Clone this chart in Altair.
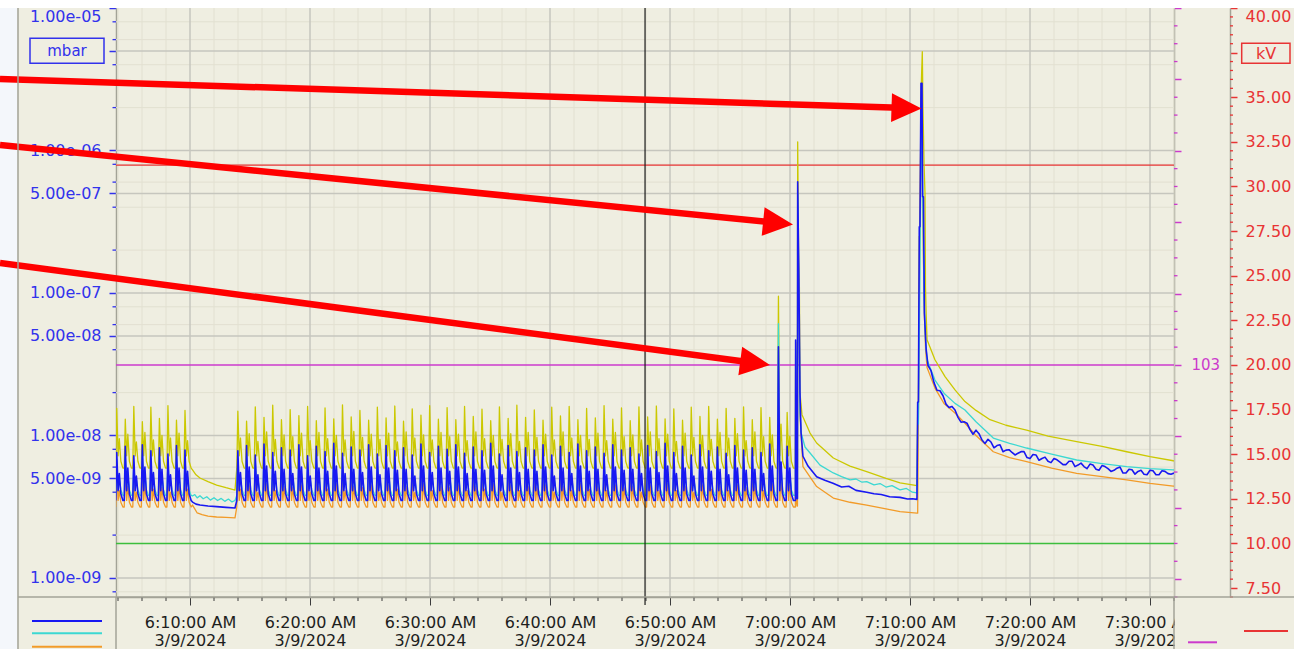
import altair as alt
import pandas as pd
import math

# ---------------------------------------------------------------- layout / style
W, H = 1058, 589
X_DOMAIN = [3.8333, 92.0]          # minutes after 6:00:00 AM, 3/9/2024
P_DOMAIN = [7.356e-10, 1.0e-5]     # mbar, log scale
KV_DOMAIN = [7.0, 40.0]            # kV
MAG_DOMAIN = [90.0, 123.0]         # magenta channel

BG = "#EFEEE1"
GRID_MAJOR = "#C6C6BE"
GRID_MINOR = "#E2E0D1"
FRAME = "#A3A397"
C_YELLOW = "#CBC800"
C_BLUE = "#1818F2"
C_CYAN = "#3CD8D2"
C_ORANGE = "#F29B28"
C_GREEN = "#3DBE3D"
C_RED = "#E83434"
C_MAG = "#CC3ACC"
C_AXBLUE = "#3232EC"
C_ARROW = "#FF0000"
FONT = "DejaVu Sans"

# ---------------------------------------------------------------- tick data
x_tick_minutes = [10, 20, 30, 40, 50, 60, 70, 80, 90]
x_tick_times = ["6:10:00 AM", "6:20:00 AM", "6:30:00 AM", "6:40:00 AM", "6:50:00 AM",
                "7:00:00 AM", "7:10:00 AM", "7:20:00 AM", "7:30:00 AM"]
x_tick_date = "3/9/2024"
left_tick_values = [1e-9, 5e-9, 1e-8, 5e-8, 1e-7, 5e-7, 1e-6, 5e-6, 1e-5]
left_tick_labels = ["1.00e-09", "5.00e-09", "1.00e-08", "5.00e-08", "1.00e-07",
                    "5.00e-07", "1.00e-06", "", "1.00e-05"]
kv_tick_values = [7.5, 10.0, 12.5, 15.0, 17.5, 20.0, 22.5, 25.0, 27.5, 30.0, 32.5, 35.0, 37.5, 40.0]
kv_hidden_label = 37.5
mag_tick_values = [91, 95, 99, 103, 107, 111, 115, 119, 123]
mag_label_value = 103

# reference lines / cursor
red_line_kv = 31.2
green_line_kv = 10.0
magenta_line = 103
cursor_minute = 47.92

# ---------------------------------------------------------------- series data (units of 1e-9 mbar)
# one pump cycle: trough, main peak, dip, second peak, late fall, trough
cycle_phase = [0.0, 0.12, 0.28, 0.42, 0.60, 0.84]
seg1_start, seg1_period = 3.81, 0.711
seg2_start, seg2_period = 13.9, 0.7266

trough = {"yellow": 5.9, "blue": 3.5, "cyan": 3.8, "orange": 3.15}
dip = {"yellow": 7.2, "blue": 4.1, "cyan": 4.3, "orange": 3.5}
late = {"yellow": 6.6, "blue": 3.9, "cyan": 4.15, "orange": 3.4}

yellow_peak_1 = [15.5, 13.0, 16.0, 12.5, 15.8, 13.2, 16.2, 12.8, 15.0]
yellow_second_1 = [9.5, 10.2, 9.0, 10.5, 9.3, 10.0, 9.6, 10.4, 9.2]
blue_peak_1 = [7.6, 8.4, 7.2, 8.6, 7.8, 8.2, 7.4, 8.5, 7.9]
blue_second_1 = [5.4, 5.9, 5.2, 6.0, 5.5, 5.8, 5.3, 5.9, 5.6]
cyan_peak_1 = [6.8, 7.4, 6.5, 7.6, 6.9, 7.2, 6.6, 7.5, 7.0]
cyan_second_1 = [5.0, 5.3, 4.9, 5.4, 5.1, 5.2, 4.9, 5.3, 5.1]
orange_peak_1 = [5.4, 6.2, 5.1, 6.4, 5.6, 6.0, 5.2, 6.3, 5.7]
orange_second_1 = [4.1, 4.4, 4.0, 4.5, 4.2, 4.3, 4.0, 4.4, 4.2]

yellow_rec_t = [10.21, 10.5, 10.83, 11.5, 12.22, 13.0, 13.75]
yellow_rec_v = [5.73, 5.3, 5.03, 4.75, 4.49, 4.3, 4.14]
cyan_rec_t = [10.21, 10.4, 10.6, 10.83, 11.1, 11.4, 11.7, 12.0, 12.3, 12.6, 12.9, 13.2, 13.5, 13.75]
cyan_rec_v = [3.76, 3.85, 3.65, 3.78, 3.6, 3.72, 3.52, 3.66, 3.5, 3.62, 3.45, 3.58, 3.42, 3.5]
blue_rec_t = [10.21, 10.5, 10.83, 11.5, 12.22, 13.0, 13.75]
blue_rec_v = [3.41, 3.3, 3.25, 3.2, 3.17, 3.13, 3.10]
orange_rec_t = [10.21, 10.6, 11.0, 11.5, 12.22, 13.0, 13.75]
orange_rec_v = [3.25, 2.86, 2.78, 2.72, 2.68, 2.66, 2.64]

yellow_peak_2 = [
    14.8, 12.6, 15.9, 13.4, 16.3, 12.9, 15.2, 13.8,
    16.0, 12.7, 15.6, 13.1, 16.4, 13.5, 15.0, 12.8,
    15.8, 13.3, 16.1, 12.6, 15.4, 13.9, 16.2, 13.0,
    15.7, 12.9, 16.0, 13.6, 15.3, 12.7, 15.9, 13.2,
    16.3, 13.4, 15.1, 12.8, 15.8, 13.7, 16.0, 12.9,
    15.5, 13.3, 16.2, 13.0, 15.6, 12.7, 15.9, 13.5,
    16.1, 13.1, 15.4, 12.8, 15.8, 13.6, 16.0, 13.0,
    15.5, 13.2, 15.9, 12.9, 15.7, 13.4, 95.0, 14.5]
yellow_second_2 = [
    9.6, 10.3, 9.1, 10.6, 9.4, 10.1, 9.8, 10.4,
    9.2, 10.5, 9.5, 10.0, 9.3, 10.7, 9.7, 10.2,
    9.4, 10.4, 9.0, 10.6, 9.6, 10.1, 9.3, 10.5,
    9.8, 10.2, 9.2, 10.6, 9.5, 10.0, 9.4, 10.3,
    9.1, 10.5, 9.7, 10.2, 9.3, 10.6, 9.6, 10.0,
    9.4, 10.4, 9.2, 10.5, 9.8, 10.1, 9.3, 10.6,
    9.5, 10.2, 9.1, 10.4, 9.7, 10.0, 9.4, 10.5,
    9.6, 10.3, 9.2, 10.6, 9.8, 10.1, 12.0, 9.9]
blue_peak_2 = [
    7.8, 8.5, 7.3, 8.7, 7.6, 8.2, 7.9, 8.6,
    7.2, 8.4, 7.7, 8.8, 7.5, 8.3, 7.9, 8.6,
    7.4, 8.5, 7.8, 8.2, 7.3, 8.7, 7.6, 8.4,
    8.0, 8.6, 7.5, 8.3, 7.8, 8.8, 7.4, 8.5,
    7.7, 8.2, 7.9, 8.6, 7.3, 8.4, 7.6, 8.7,
    7.8, 8.3, 7.5, 8.6, 7.9, 8.2, 7.4, 8.5,
    7.7, 8.8, 7.6, 8.4, 7.3, 8.6, 7.8, 8.3,
    7.5, 8.5, 7.9, 8.2, 7.6, 8.7, 42.0, 8.4]
blue_second_2 = [
    5.5, 6.0, 5.3, 6.1, 5.6, 5.8, 5.4, 6.0,
    5.2, 5.9, 5.6, 6.1, 5.4, 5.8, 5.5, 6.0,
    5.3, 5.9, 5.7, 5.8, 5.2, 6.1, 5.5, 5.9,
    5.6, 6.0, 5.4, 5.8, 5.7, 6.1, 5.3, 5.9,
    5.5, 5.8, 5.6, 6.0, 5.2, 5.9, 5.4, 6.1,
    5.6, 5.8, 5.3, 6.0, 5.7, 5.8, 5.4, 5.9,
    5.5, 6.1, 5.4, 5.9, 5.2, 6.0, 5.6, 5.8,
    5.3, 5.9, 5.7, 5.8, 5.4, 6.1, 6.5, 5.9]
cyan_peak_2 = [
    6.9, 7.5, 6.6, 7.7, 6.8, 7.3, 7.0, 7.6,
    6.5, 7.4, 6.9, 7.8, 6.7, 7.3, 7.0, 7.6,
    6.6, 7.5, 6.9, 7.2, 6.5, 7.7, 6.8, 7.4,
    7.1, 7.6, 6.7, 7.3, 6.9, 7.8, 6.6, 7.5,
    6.8, 7.2, 7.0, 7.6, 6.5, 7.4, 6.8, 7.7,
    6.9, 7.3, 6.7, 7.6, 7.0, 7.2, 6.6, 7.5,
    6.8, 7.8, 6.7, 7.4, 6.5, 7.6, 6.9, 7.3,
    6.7, 7.5, 7.0, 7.2, 6.8, 7.7, 61.0, 7.4]
cyan_second_2 = [
    5.1, 5.4, 4.9, 5.5, 5.0, 5.3, 5.2, 5.4,
    4.9, 5.3, 5.1, 5.5, 5.0, 5.3, 5.2, 5.4,
    4.9, 5.4, 5.1, 5.3, 4.9, 5.5, 5.0, 5.3,
    5.2, 5.4, 5.0, 5.3, 5.1, 5.5, 4.9, 5.4,
    5.0, 5.3, 5.2, 5.4, 4.9, 5.3, 5.0, 5.5,
    5.1, 5.3, 5.0, 5.4, 5.2, 5.3, 4.9, 5.4,
    5.0, 5.5, 5.0, 5.3, 4.9, 5.4, 5.1, 5.3,
    5.0, 5.4, 5.2, 5.3, 5.0, 5.5, 6.0, 5.4]
orange_peak_2 = [
    5.6, 6.3, 5.2, 6.5, 5.5, 6.0, 5.8, 6.4,
    5.1, 6.2, 5.6, 6.6, 5.4, 6.1, 5.8, 6.4,
    5.3, 6.3, 5.7, 6.0, 5.2, 6.5, 5.5, 6.2,
    5.9, 6.4, 5.4, 6.1, 5.7, 6.6, 5.3, 6.3,
    5.6, 6.0, 5.8, 6.4, 5.2, 6.2, 5.5, 6.5,
    5.7, 6.1, 5.4, 6.4, 5.8, 6.0, 5.3, 6.3,
    5.6, 6.6, 5.5, 6.2, 5.2, 6.4, 5.7, 6.1,
    5.4, 6.3, 5.8, 6.0, 5.5, 6.5, 30.0, 6.2]
orange_second_2 = [
    4.2, 4.5, 4.0, 4.6, 4.1, 4.4, 4.3, 4.5,
    4.0, 4.4, 4.2, 4.6, 4.1, 4.4, 4.3, 4.5,
    4.0, 4.5, 4.2, 4.4, 4.0, 4.6, 4.1, 4.4,
    4.3, 4.5, 4.1, 4.4, 4.2, 4.6, 4.0, 4.5,
    4.1, 4.4, 4.3, 4.5, 4.0, 4.4, 4.1, 4.6,
    4.2, 4.4, 4.1, 4.5, 4.3, 4.4, 4.0, 4.5,
    4.1, 4.6, 4.1, 4.4, 4.0, 4.5, 4.2, 4.4,
    4.1, 4.5, 4.3, 4.4, 4.1, 4.6, 5.0, 4.5]

# spike 1 (7:00:40), decay, spike 2 (7:11), decay
blue_tail_t = [60.40, 60.45, 60.47, 60.53, 60.58, 60.62, 60.64, 60.72, 60.78, 60.83, 60.92, 61.08,
               61.5, 62.22, 62.9, 63.58, 64.3, 64.9, 65.5, 66.39, 67.0, 67.6, 68.3, 69.17, 69.8,
               70.2, 70.58, 70.64, 70.70, 70.775, 70.83, 70.917, 71.00, 71.05, 71.12, 71.20,
               71.28, 71.35]
blue_tail_v = [3.5, 3.5, 46.8, 4.0, 3.6, 3.6, 604.0, 170.0, 60.0, 20.0, 10.5, 7.15,
               6.1, 5.14, 4.85, 4.62, 4.35, 4.4, 4.12, 4.0, 3.9, 3.85, 3.72, 3.68, 3.58,
               3.6, 3.56, 17.2, 17.2, 292.0, 292.0, 2960.0, 2960.0, 474.0, 474.0, 72.0,
               52.0, 40.0]
blue_decay_t0, blue_decay_step = 71.5, 0.5
blue_decay_v = [31.0, 23.5, 20.6, 16.6, 16.0, 13.4, 12.5, 11.0, 10.9, 9.3,
                9.4, 8.2, 8.6, 7.9, 7.6, 7.5, 7.7, 6.9, 7.3, 6.9,
                6.6, 6.9, 6.5, 6.25, 6.6, 6.2, 6.05, 6.3, 5.8, 6.15,
                5.85, 5.7, 6.0, 5.45, 5.75, 5.6, 5.35, 5.7, 5.3, 5.65,
                5.4, 5.45]
# readings half-way between the ones above (noisy trace)
blue_decay_mid_v = [28.5, 20.8, 19.0, 15.7, 15.1, 12.4, 12.2, 10.2, 10.3, 8.8,
                    9.0, 8.5, 7.7, 7.95, 7.3, 7.7, 7.0, 7.35, 6.7, 7.05,
                    6.45, 6.75, 6.25, 6.6, 6.05, 6.4, 5.85, 6.2, 5.7, 6.05,
                    5.6, 5.9, 5.45, 5.8, 5.35, 5.7, 5.3, 5.65, 5.3, 5.6,
                    5.35]
yellow_tail_t = [60.40, 60.45, 60.47, 60.53, 60.58, 60.62, 60.64, 60.72, 60.78, 60.83, 61.0,
                 61.67, 62.22, 63.61, 65.0, 66.39, 68.0, 69.17, 70.58, 70.64, 70.70, 70.775,
                 70.83, 70.917, 71.025, 71.08, 71.17, 71.25, 71.29, 71.35, 71.42, 72.08,
                 72.92, 73.75, 74.58, 75.5, 76.67, 78.0, 79.72, 81.5, 83.89, 86.0, 88.06,
                 90.0, 91.94, 92.3]
yellow_tail_v = [5.9, 5.9, 45.0, 7.0, 6.0, 6.0, 1150.0, 170.0, 120.0, 19.9, 14.0,
                 10.4, 8.86, 6.95, 6.1, 5.57, 5.0, 4.65, 4.45, 15.0, 15.0, 250.0,
                 250.0, 2500.0, 4930.0, 2000.0, 800.0, 500.0, 110.0, 70.0, 47.0, 34.0,
                 25.9, 20.9, 17.3, 15.0, 12.9, 11.8, 10.9, 9.9, 9.05, 8.4, 7.69,
                 7.1, 6.65, 6.6]
cyan_tail_t = [60.40, 60.45, 60.47, 60.53, 60.58, 60.62, 60.64, 60.72, 60.78, 60.83, 60.92,
               61.25, 61.67, 62.5, 63.61, 64.3, 65.0, 65.5, 66.0, 66.39, 67.0, 67.5, 68.0,
               68.5, 69.17, 69.7, 70.2, 70.58, 70.64, 70.70, 70.80, 70.86, 70.95, 71.05,
               71.17, 71.30, 71.42, 72.08, 72.83, 73.75, 74.58, 75.5, 76.94, 78.3, 79.72,
               81.8, 83.89, 86.0, 88.06, 90.0, 91.94, 92.3]
cyan_tail_v = [3.8, 3.8, 40.0, 4.3, 3.9, 3.9, 500.0, 150.0, 50.0, 15.0, 10.5,
               8.3, 7.54, 6.2, 5.46, 5.15, 4.88, 4.95, 4.7, 4.75, 4.5, 4.6, 4.35,
               4.45, 4.15, 4.25, 4.0, 3.95, 12.0, 12.0, 74.0, 290.0, 1500.0, 600.0,
               90.0, 45.0, 34.0, 24.5, 19.8, 16.8, 15.1, 12.5, 9.6, 8.8, 8.17,
               7.4, 6.73, 6.35, 6.04, 5.85, 5.73, 5.7]
orange_tail_t = [60.40, 60.45, 60.47, 60.53, 60.58, 60.62, 60.64, 60.72, 60.78, 60.83, 61.08,
                 62.22, 63.61, 65.0, 66.39, 68.0, 69.17, 70.58, 70.64, 70.70, 70.80, 70.92,
                 71.05, 71.20, 71.30, 71.42, 72.08, 72.83, 73.75, 74.58, 75.5, 76.94, 78.3,
                 79.72, 81.8, 83.89, 86.0, 88.06, 90.0, 91.94, 92.3]
orange_tail_v = [3.15, 3.15, 35.0, 3.5, 3.2, 3.2, 450.0, 140.0, 45.0, 14.0, 6.04,
                 4.38, 3.64, 3.4, 3.25, 3.05, 2.92, 2.85, 2.85, 14.0, 200.0, 1800.0,
                 400.0, 70.0, 40.0, 30.0, 21.5, 16.8, 14.4, 12.2, 10.0, 7.69, 7.0,
                 6.55, 5.9, 5.43, 5.15, 4.88, 4.62, 4.42, 4.4]

# annotation arrows (minutes, mbar)
arrow_tail_t = [-5.8333, -5.8333, -5.8333]
arrow_tail_p = [3.176e-6, 1.093e-6, 1.6238e-7]
arrow_tip_t = [70.958, 60.25, 58.333]
arrow_tip_p = [1.971e-6, 3.025e-7, 3.125e-8]
arrow_angle = [1.83, 5.73, 7.55]

# ---------------------------------------------------------------- build tables
def cycles(start, period, peaks, seconds, name):
    t, v = [], []
    for i, (pk, sc) in enumerate(zip(peaks, seconds)):
        t0 = start + i * period
        vals = [trough[name], pk, dip[name], sc, late[name], trough[name]]
        for ph, val in zip(cycle_phase, vals):
            t.append(t0 + ph * period)
            v.append(val)
    return t, v

def series_df(name, p1, s1, rt, rv, p2, s2, tt, tv):
    ta, va = cycles(seg1_start, seg1_period, p1, s1, name)
    tb, vb = cycles(seg2_start, seg2_period, p2, s2, name)
    t = ta + list(rt) + tb + list(tt)
    v = va + list(rv) + vb + list(tv)
    return pd.DataFrame({"t": t, "p": [x * 1e-9 for x in v], "i": list(range(len(t)))})

blue_decay = [(blue_decay_t0 + k * blue_decay_step, v) for k, v in enumerate(blue_decay_v)]
blue_decay += [(blue_decay_t0 + (k + 0.5) * blue_decay_step, v) for k, v in enumerate(blue_decay_mid_v)]
blue_decay.sort()
blue_full_t = blue_tail_t + [p[0] for p in blue_decay]
blue_full_v = blue_tail_v + [p[1] for p in blue_decay]

df_yellow = series_df("yellow", yellow_peak_1, yellow_second_1, yellow_rec_t, yellow_rec_v,
                      yellow_peak_2, yellow_second_2, yellow_tail_t, yellow_tail_v)
df_blue = series_df("blue", blue_peak_1, blue_second_1, blue_rec_t, blue_rec_v,
                    blue_peak_2, blue_second_2, blue_full_t, blue_full_v)
df_cyan = series_df("cyan", cyan_peak_1, cyan_second_1, cyan_rec_t, cyan_rec_v,
                    cyan_peak_2, cyan_second_2, cyan_tail_t, cyan_tail_v)
df_orange = series_df("orange", orange_peak_1, orange_second_1, orange_rec_t, orange_rec_v,
                      orange_peak_2, orange_second_2, orange_tail_t, orange_tail_v)

# arrows: shaft from tail to just before the tip (straight on screen in t / log p space)
shaft_frac = 0.976
shaft_rows, head_rows = [], []
for a, (t0, p0, t1, p1, ang) in enumerate(zip(arrow_tail_t, arrow_tail_p, arrow_tip_t, arrow_tip_p, arrow_angle)):
    l0, l1 = math.log10(p0), math.log10(p1)
    te = t0 + shaft_frac * (t1 - t0)
    pe = 10 ** (l0 + shaft_frac * (l1 - l0))
    shaft_rows += [{"a": a, "k": 0, "t": t0, "p": p0}, {"a": a, "k": 1, "t": te, "p": pe}]
    head_rows.append({"a": a, "t": t1, "p": p1, "ang": ang})
df_shaft = pd.DataFrame(shaft_rows)
df_head = pd.DataFrame(head_rows)

# tick / grid positions
x_minor = [m for m in range(4, 93, 2) if m % 10 != 0]
p_minor = [m * 10.0 ** e for e in range(-10, -5) for m in (2, 4, 6, 8)
           if P_DOMAIN[0] <= m * 10.0 ** e <= P_DOMAIN[1]]
p_major_grid = [1e-9, 5e-9, 1e-8, 5e-8, 1e-7, 5e-7, 1e-6, 5e-6]
kv_minor = [v / 2 for v in range(14, 81) if v % 5 != 0]
mag_minor = [v for v in range(90, 124) if (v - 91) % 4 != 0]

# ---------------------------------------------------------------- axes & scales
x_expr = "''"
for m, lab in reversed(list(zip(x_tick_minutes, x_tick_times))):
    x_expr = f"datum.value == {m} ? ['{lab}', '{x_tick_date}'] : ({x_expr})"
left_expr = "''"
for v, lab in reversed(list(zip(left_tick_values, left_tick_labels))):
    left_expr = f"abs(datum.value / {v!r} - 1) < 1e-6 ? '{lab}' : ({left_expr})"

x_scale = alt.Scale(domain=X_DOMAIN, nice=False, zero=False)
x_axis = alt.Axis(values=x_tick_minutes, labelExpr=x_expr, title=None, grid=False,
                  tickSize=8, tickColor="#3C3C3C", tickWidth=1,
                  labelColor="#1E1E1E", labelFont=FONT, labelFontSize=16,
                  labelPadding=9, labelLineHeight=18, labelFlush=False, labelOverlap=False,
                  domainColor=FRAME, domainWidth=1.5)
p_scale = alt.Scale(type="log", domain=P_DOMAIN, nice=False)
left_axis = alt.Axis(orient="left", values=left_tick_values, labelExpr=left_expr, title=None,
                     grid=False, tickSize=7, tickColor=C_AXBLUE, tickWidth=1.5,
                     labelColor=C_AXBLUE, labelFont=FONT, labelFontSize=16, labelPadding=8,
                     labelFlush=True, labelOverlap=False, domainColor=FRAME, domainWidth=1.5)
kv_scale = alt.Scale(domain=KV_DOMAIN, nice=False, zero=False)
kv_axis = alt.Axis(orient="right", offset=56, values=kv_tick_values,
                   labelExpr=f"datum.value == {kv_hidden_label} ? '' : format(datum.value, '.2f')",
                   title=None, grid=False, tickSize=7, tickColor=C_RED, tickWidth=1.5,
                   labelColor=C_RED, labelFont=FONT, labelFontSize=16, labelPadding=8,
                   labelFlush=True, labelOverlap=False, domainColor=FRAME, domainWidth=1.5)
mag_scale = alt.Scale(domain=MAG_DOMAIN, nice=False, zero=False)
mag_axis = alt.Axis(orient="right", offset=0, values=mag_tick_values,
                    labelExpr=f"datum.value == {mag_label_value} ? '{mag_label_value}' : ''",
                    title=None, grid=False, tickSize=7, tickColor=C_MAG, tickWidth=1.5,
                    labelColor=C_MAG, labelFont=FONT, labelFontSize=15, labelPadding=10,
                    labelOverlap=False, domainColor=FRAME, domainWidth=1.5)

def X(f):
    return alt.X(f"{f}:Q", scale=x_scale, axis=x_axis)

def YP(f, axis=None):
    return alt.Y(f"{f}:Q", scale=p_scale, axis=axis)

def YK(f, axis=None):
    return alt.Y(f"{f}:Q", scale=kv_scale, axis=axis)

def YM(f, axis=None):
    return alt.Y(f"{f}:Q", scale=mag_scale, axis=axis)

dummy = alt.Data(values=[{"d": 0}])

def prule(x, x2, y, y2, color, width):
    return alt.Chart(dummy).mark_rule(color=color, strokeWidth=width, clip=False).encode(
        x=alt.value(x), x2=alt.value(x2), y=alt.value(y), y2=alt.value(y2))

def prect(x, x2, y, y2, fill, stroke=None, width=0):
    kw = dict(fill=fill, clip=False)
    if stroke:
        kw.update(stroke=stroke, strokeWidth=width)
    return alt.Chart(dummy).mark_rect(**kw).encode(
        x=alt.value(x), x2=alt.value(x2), y=alt.value(y), y2=alt.value(y2))

def ptext(txt, x, y, color, size):
    return alt.Chart(dummy).mark_text(text=txt, font=FONT, fontSize=size, color=color,
                                      align="center", baseline="middle", clip=False).encode(
        x=alt.value(x), y=alt.value(y))

# ---------------------------------------------------------------- layers
layers = []
# white outer strips
layers.append(prect(-116, -98.5, -8, H + 52, "#F4F7FB"))
layers.append(prect(-116, W + 120, -8, 0, "#FFFFFF"))

# grid
layers.append(alt.Chart(pd.DataFrame({"t": x_minor})).mark_rule(color=GRID_MINOR, strokeWidth=1)
              .encode(x=X("t")))
layers.append(alt.Chart(pd.DataFrame({"p": p_minor})).mark_rule(color=GRID_MINOR, strokeWidth=1)
              .encode(y=YP("p")))
layers.append(alt.Chart(pd.DataFrame({"t": x_tick_minutes})).mark_rule(color=GRID_MAJOR, strokeWidth=1.5)
              .encode(x=X("t")))
layers.append(alt.Chart(pd.DataFrame({"p": p_major_grid})).mark_rule(color=GRID_MAJOR, strokeWidth=1.5)
              .encode(y=YP("p", left_axis)))

# reference lines (carry the right-hand axes)
layers.append(alt.Chart(pd.DataFrame({"kv": [green_line_kv]})).mark_rule(color=C_GREEN, strokeWidth=1.5)
              .encode(y=YK("kv")))
layers.append(alt.Chart(pd.DataFrame({"kv": [red_line_kv]})).mark_rule(color=C_RED, strokeWidth=1.3)
              .encode(y=YK("kv", kv_axis)))
layers.append(alt.Chart(pd.DataFrame({"m": [magenta_line]})).mark_rule(color=C_MAG, strokeWidth=1.5)
              .encode(y=YM("m", mag_axis)))

# minor ticks
layers.append(alt.Chart(pd.DataFrame({"p": p_minor})).mark_rule(color=C_AXBLUE, strokeWidth=1.3, clip=False)
              .encode(y=YP("p"), x=alt.value(-3.5), x2=alt.value(0)))
layers.append(alt.Chart(pd.DataFrame({"kv": kv_minor})).mark_rule(color=C_RED, strokeWidth=1.3, clip=False)
              .encode(y=YK("kv"), x=alt.value(W + 56), x2=alt.value(W + 59)))
layers.append(alt.Chart(pd.DataFrame({"m": mag_minor})).mark_rule(color=C_MAG, strokeWidth=1.3, clip=False)
              .encode(y=YM("m"), x=alt.value(W), x2=alt.value(W + 3.5)))
layers.append(alt.Chart(pd.DataFrame({"t": x_minor})).mark_rule(color="#3C3C3C", strokeWidth=1, clip=False)
              .encode(x=X("t"), y=alt.value(H), y2=alt.value(H + 4)))

# series
for df, col, sw in [(df_yellow, C_YELLOW, 1.3), (df_orange, C_ORANGE, 1.3),
                    (df_cyan, C_CYAN, 1.3), (df_blue, C_BLUE, 1.6)]:
    layers.append(alt.Chart(df).mark_line(color=col, strokeWidth=sw, clip=True, strokeJoin="round")
                  .encode(x=X("t"), y=YP("p"), order="i:Q"))

# cursor
layers.append(alt.Chart(pd.DataFrame({"t": [cursor_minute]})).mark_rule(color="#1A1A1A", strokeWidth=1.2, clip=False)
              .encode(x=X("t"), y=alt.value(0), y2=alt.value(H + 8)))

# arrows
layers.append(alt.Chart(df_shaft).mark_line(color=C_ARROW, strokeWidth=6.5, clip=False, strokeCap="butt")
              .encode(x=X("t"), y=YP("p"), detail="a:N", order="k:Q"))
layers.append(alt.Chart(df_head).mark_point(shape="M0,0L-1,-0.48L-1,0.48Z", filled=True, fill=C_ARROW,
                                            size=3600, opacity=1, strokeWidth=0, clip=False)
              .encode(x=X("t"), y=YP("p"), angle=alt.Angle("ang:Q", scale=None)))

# panel frame / decorations
layers.append(prect(W + 1, W + 120, H + 1.5, H + 52, BG))
layers.append(prule(-98, -98, 0, H + 52, FRAME, 1.5))
layers.append(prule(-98, W + 120, H, H, FRAME, 1.5))
layers.append(prule(0, 0, H, H + 52, FRAME, 1.5))
layers.append(prule(W, W, H, H + 52, FRAME, 1.5))
# legend swatches
layers.append(prule(-84, -14, 613, 613, C_BLUE, 2))
layers.append(prule(-84, -14, 625.3, 625.3, C_CYAN, 2))
layers.append(prule(-84, -14, 638.7, 638.7, C_ORANGE, 2))
layers.append(prule(1072, 1101, 634.3, 634.3, C_MAG, 2))
layers.append(prule(1128, 1172, 623, 623, C_RED, 2))
# unit boxes
layers.append(prect(-86, -12, 30.3, 55.3, BG, C_AXBLUE, 1.5))
layers.append(ptext("mbar", -49, 43, C_AXBLUE, 15))
layers.append(prect(1125.7, 1174, 35.3, 55.3, BG, C_RED, 1.5))
layers.append(ptext("kV", 1150, 45.5, C_RED, 16))

chart = (alt.layer(*layers)
         .resolve_scale(y="independent")
         .properties(width=W, height=H,
                     padding={"left": 116, "top": 8, "right": 120, "bottom": 52},
                     autosize=alt.AutoSizeParams(type="none"),
                     background=BG)
         .configure_view(stroke=None, fill=BG))

chart.save("out.html", embed_options={"renderer": "svg", "actions": False})
